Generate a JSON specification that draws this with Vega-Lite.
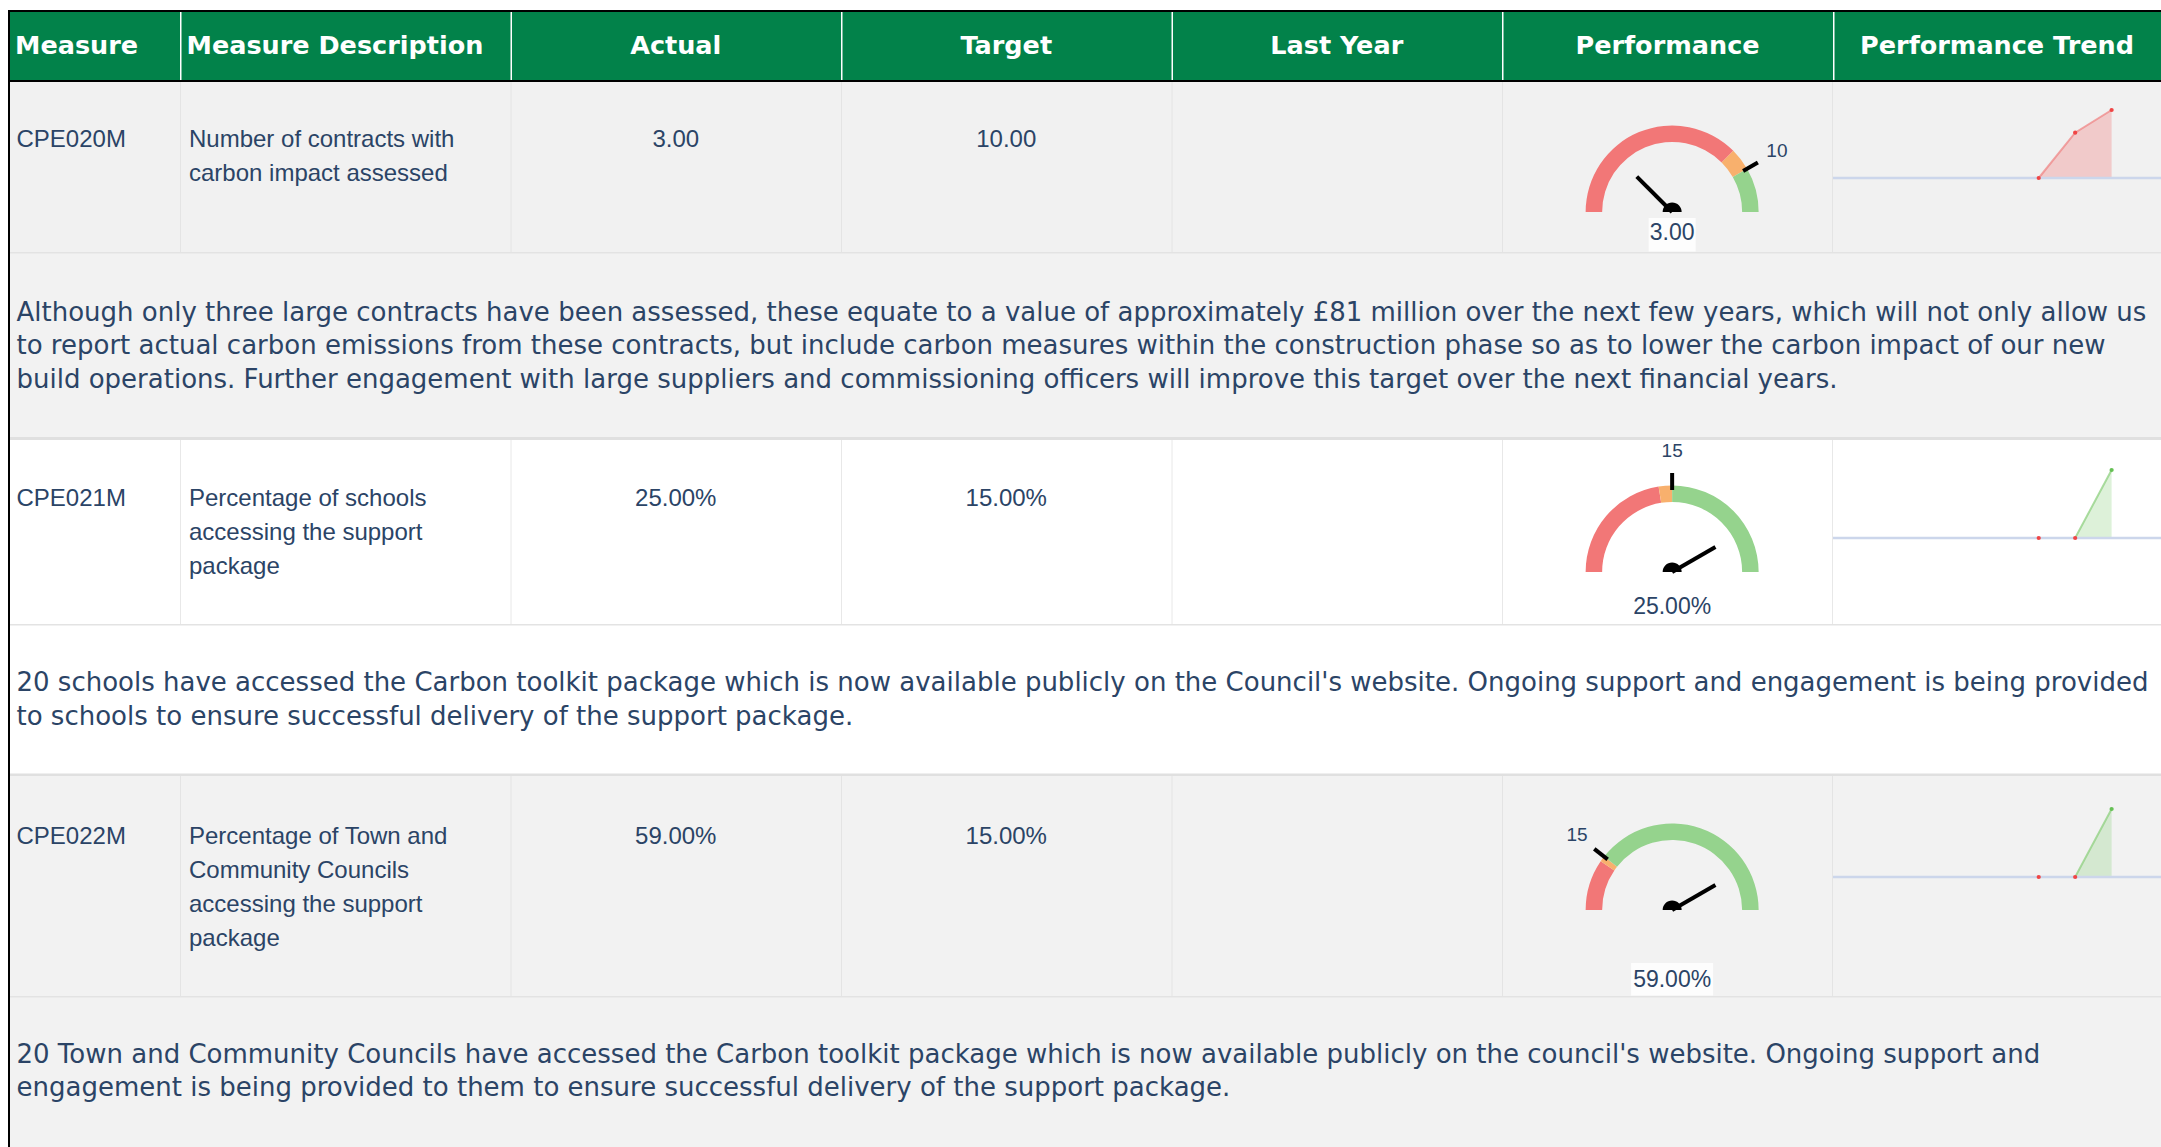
{
"$schema": "https://vega.github.io/schema/vega-lite/v6.json",
"background": "white",
"padding": {"left": 8, "top": 10, "right": 0, "bottom": 0},
"config": {"view": {"stroke": null}},
"spacing": 0,
"hconcat": [
{"width": 2, "height": 1137, "data": {"values": [{}]}, "mark": {"type": "rect", "color": "black"}, "encoding": {}},
{"spacing": 0,
 "resolve": {"scale": {"theta": "independent", "angle": "independent"}},
 "vconcat": [
 {"width": 2151, "height": 2, "data": {"values": [{}]}, "mark": {"type": "rect", "color": "black"}, "encoding": {}},
 {"spacing": 0, "hconcat": [
  {"width": 170, "height": 68, "data": {"values": [{"col": "Measure"}]}, "layer": [
   {"mark": {"type": "rect", "color": "#02824a"}, "encoding": {}},
   {"mark": {"type": "text", "align": "left", "baseline": "middle", "dx": 5, "font": "DejaVu Sans", "fontWeight": "bold", "fontSize": 25.5, "color": "white"},
    "encoding": {"x": {"field": "col", "type": "nominal", "axis": null, "scale": {"type": "band", "paddingInner": 0, "paddingOuter": 0}, "bandPosition": 0}, "text": {"field": "col"}}}
  ]},
  {"width": 1322, "height": 68, "data": {"values": [{"col": "Measure Description"}, {"col": "Actual"}, {"col": "Target"}, {"col": "Last Year"}]}, "layer": [
   {"mark": {"type": "rect", "color": "#02824a"}, "encoding": {}},
   {"mark": {"type": "rule", "color": "white", "strokeWidth": 1.5, "xOffset": 0.75, "clip": true}, "encoding": {"x": {"field": "col", "type": "nominal", "axis": null, "scale": {"type": "band", "domain": ["Measure Description", "Actual", "Target", "Last Year"], "paddingInner": 0, "paddingOuter": 0}, "bandPosition": 0}}},
   {"transform": [{"filter": "datum.col === 'Measure Description'"}], "mark": {"type": "text", "align": "left", "baseline": "middle", "dx": 6.5, "font": "DejaVu Sans", "fontWeight": "bold", "fontSize": 25.5, "color": "white"},
    "encoding": {"x": {"field": "col", "type": "nominal", "axis": null, "scale": {"type": "band", "domain": ["Measure Description", "Actual", "Target", "Last Year"], "paddingInner": 0, "paddingOuter": 0}, "bandPosition": 0}, "text": {"field": "col"}}},
   {"transform": [{"filter": "datum.col !== 'Measure Description'"}], "mark": {"type": "text", "align": "center", "baseline": "middle", "font": "DejaVu Sans", "fontWeight": "bold", "fontSize": 25.5, "color": "white"},
    "encoding": {"x": {"field": "col", "type": "nominal", "axis": null, "scale": {"type": "band", "domain": ["Measure Description", "Actual", "Target", "Last Year"], "paddingInner": 0, "paddingOuter": 0}, "bandPosition": 0.5}, "text": {"field": "col"}}}
  ]},
  {"width": 331, "height": 68, "data": {"values": [{"col": "Performance"}]}, "layer": [
   {"mark": {"type": "rect", "color": "#02824a"}, "encoding": {}},
   {"mark": {"type": "rule", "color": "white", "strokeWidth": 1.5, "xOffset": 0.75, "clip": true}, "encoding": {"x": {"field": "col", "type": "nominal", "axis": null, "scale": {"type": "band", "paddingInner": 0, "paddingOuter": 0}, "bandPosition": 0}}},
   {"mark": {"type": "text", "align": "center", "baseline": "middle", "font": "DejaVu Sans", "fontWeight": "bold", "fontSize": 25.5, "color": "white"},
    "encoding": {"x": {"field": "col", "type": "nominal", "axis": null, "scale": {"type": "band", "paddingInner": 0, "paddingOuter": 0}, "bandPosition": 0.5}, "text": {"field": "col"}}}
  ]},
  {"width": 328, "height": 68, "data": {"values": [{"col": "Performance Trend"}]}, "layer": [
   {"mark": {"type": "rect", "color": "#02824a"}, "encoding": {}},
   {"mark": {"type": "rule", "color": "white", "strokeWidth": 1.5, "xOffset": 0.75, "clip": true}, "encoding": {"x": {"field": "col", "type": "nominal", "axis": null, "scale": {"type": "band", "paddingInner": 0, "paddingOuter": 0}, "bandPosition": 0}}},
   {"mark": {"type": "text", "align": "center", "baseline": "middle", "font": "DejaVu Sans", "fontWeight": "bold", "fontSize": 25.5, "color": "white"},
    "encoding": {"x": {"field": "col", "type": "nominal", "axis": null, "scale": {"type": "band", "paddingInner": 0, "paddingOuter": 0}, "bandPosition": 0.5}, "text": {"field": "col"}}}
  ]}
 ]},
 {"width": 2151, "height": 2, "data": {"values": [{}]}, "mark": {"type": "rect", "color": "black"}, "encoding": {}},

 {"spacing": 0, "hconcat": [
  {"width": 170, "height": 170, "data": {"values": [{"m": "CPE020M"}]}, "layer": [
   {"mark": {"type": "rect", "color": "#f1f1f1"}, "encoding": {}},
   {"mark": {"type": "text", "align": "left", "baseline": "alphabetic", "dx": 6.5, "dy": 64.7, "font": "Liberation Sans", "fontSize": 24, "color": "#2b4466", "clip": true},
    "encoding": {"x": {"field": "m", "type": "nominal", "axis": null, "scale": {"type": "band", "paddingInner": 0, "paddingOuter": 0}, "bandPosition": 0},
                 "y": {"field": "m", "type": "nominal", "axis": null, "scale": {"type": "band", "paddingInner": 0, "paddingOuter": 0}, "bandPosition": 0},
                 "text": {"field": "m"}}}
  ]},
  {"width": 1322, "height": 170, "data": {"values": [
    {"m": "CPE020M", "col": "Measure Description", "text": "Number of contracts with\ncarbon impact assessed"},
    {"m": "CPE020M", "col": "Actual", "text": "3.00"},
    {"m": "CPE020M", "col": "Target", "text": "10.00"},
    {"m": "CPE020M", "col": "Last Year", "text": ""}]}, "layer": [
   {"mark": {"type": "rect", "color": "#f1f1f1"}, "encoding": {}},
   {"mark": {"type": "rule", "color": "#e4e4e4", "strokeWidth": 1, "xOffset": 0.5, "clip": true}, "encoding": {"x": {"field": "col", "type": "nominal", "axis": null, "scale": {"type": "band", "domain": ["Measure Description", "Actual", "Target", "Last Year"], "paddingInner": 0, "paddingOuter": 0}, "bandPosition": 0}}},
   {"transform": [{"filter": "datum.col === 'Measure Description'"}], "mark": {"type": "text", "align": "left", "baseline": "alphabetic", "dx": 9, "dy": 64.7, "lineBreak": "\n", "lineHeight": 34, "font": "Liberation Sans", "fontSize": 24, "color": "#2b4466", "clip": true},
    "encoding": {"x": {"field": "col", "type": "nominal", "axis": null, "scale": {"type": "band", "domain": ["Measure Description", "Actual", "Target", "Last Year"], "paddingInner": 0, "paddingOuter": 0}, "bandPosition": 0},
                 "y": {"field": "m", "type": "nominal", "axis": null, "scale": {"type": "band", "paddingInner": 0, "paddingOuter": 0}, "bandPosition": 0},
                 "text": {"field": "text"}}},
   {"transform": [{"filter": "datum.col === 'Actual' || datum.col === 'Target'"}], "mark": {"type": "text", "align": "center", "baseline": "alphabetic", "dy": 64.7, "font": "Liberation Sans", "fontSize": 24, "color": "#2b4466", "clip": true},
    "encoding": {"x": {"field": "col", "type": "nominal", "axis": null, "scale": {"type": "band", "domain": ["Measure Description", "Actual", "Target", "Last Year"], "paddingInner": 0, "paddingOuter": 0}, "bandPosition": 0.5},
                 "y": {"field": "m", "type": "nominal", "axis": null, "scale": {"type": "band", "paddingInner": 0, "paddingOuter": 0}, "bandPosition": 0},
                 "text": {"field": "text"}}}
  ]},
  {"width": 331, "height": 170, "layer": [
   {"data": {"values": [{"col": "Performance"}]}, "layer": [
    {"mark": {"type": "rect", "color": "#f1f1f1"}, "encoding": {}},
    {"mark": {"type": "rule", "color": "#e4e4e4", "strokeWidth": 1, "xOffset": 0.5, "clip": true}, "encoding": {"x": {"field": "col", "type": "nominal", "axis": null, "scale": {"type": "band", "paddingInner": 0, "paddingOuter": 0}, "bandPosition": 0}}},
    {"mark": {"type": "rule", "color": "#e4e4e4", "strokeWidth": 1, "xOffset": -0.5, "clip": true}, "encoding": {"x": {"field": "col", "type": "nominal", "axis": null, "bandPosition": 1}}}
   ]},
   {"data": {"values": [{"col": "Performance", "rag": "Red", "from": 0, "to": 9}, {"col": "Performance", "rag": "Amber", "from": 9, "to": 10}, {"col": "Performance", "rag": "Green", "from": 10, "to": 12}]},
    "mark": {"type": "arc", "outerRadius": 86.5, "innerRadius": 70, "clip": true},
    "encoding": {"x": {"field": "col", "type": "nominal", "axis": null, "bandPosition": 0.514},
                 "y": {"field": "col", "type": "nominal", "axis": null, "scale": {"type": "band", "paddingInner": 0, "paddingOuter": 0}, "bandPosition": 0.7647},
                 "theta": {"field": "from", "type": "quantitative", "stack": null, "scale": {"domain": [0, 12], "range": [-1.5708, 1.5708]}},
                 "theta2": {"field": "to"},
                 "color": {"field": "rag", "type": "nominal", "legend": null, "scale": {"domain": ["Red", "Amber", "Green"], "range": ["#f27777", "#f8b06d", "#95d38d"]}}}},
   {"data": {"values": [{"col": "Performance", "m": "CPE020M", "actual": 3, "target": 10, "label": "3.00"}]}, "layer": [
    {"mark": {"type": "point", "shape": "M0,-0.82L0,-0.99", "size": 40000, "filled": false, "color": "black", "strokeWidth": 4, "opacity": 1, "clip": true},
     "encoding": {"x": {"field": "col", "type": "nominal", "axis": null, "bandPosition": 0.514}, "y": {"field": "col", "type": "nominal", "axis": null, "bandPosition": 0.7647},
                  "angle": {"field": "target", "type": "quantitative", "legend": null, "scale": {"domain": [0, 12], "range": [-90, 90]}}}},
    {"mark": {"type": "point", "shape": "M0,0L0,-0.5", "size": 40000, "filled": false, "color": "black", "strokeWidth": 4, "opacity": 1, "clip": true},
     "encoding": {"x": {"field": "col", "type": "nominal", "axis": null, "bandPosition": 0.514}, "y": {"field": "col", "type": "nominal", "axis": null, "bandPosition": 0.7647},
                  "angle": {"field": "actual", "type": "quantitative", "legend": null, "scale": {"domain": [0, 12], "range": [-90, 90]}}}},
    {"mark": {"type": "point", "shape": "M-1,0A1,1 0 0,1 1,0Z", "size": 361, "filled": true, "color": "black", "opacity": 1, "clip": true},
     "encoding": {"x": {"field": "col", "type": "nominal", "axis": null, "bandPosition": 0.514}, "y": {"field": "col", "type": "nominal", "axis": null, "bandPosition": 0.7647}}},
    {"mark": {"type": "text", "radius": 121, "align": "center", "baseline": "middle", "font": "Liberation Sans", "fontSize": 19, "color": "#2b4466", "clip": true},
     "encoding": {"x": {"field": "col", "type": "nominal", "axis": null, "bandPosition": 0.514}, "y": {"field": "col", "type": "nominal", "axis": null, "bandPosition": 0.7647},
                  "theta": {"field": "target", "type": "quantitative", "stack": null, "scale": {"domain": [0, 12], "range": [-1.5708, 1.5708]}}, "text": {"field": "target", "type": "quantitative"}}},
    {"mark": {"type": "point", "shape": "M-0.235,0.06H0.235V0.395H-0.235Z", "size": 40000, "filled": true, "color": "white", "opacity": 0.85, "strokeWidth": 0, "clip": true},
     "encoding": {"x": {"field": "col", "type": "nominal", "axis": null, "bandPosition": 0.514}, "y": {"field": "col", "type": "nominal", "axis": null, "bandPosition": 0.7647}}},
    {"mark": {"type": "text", "dy": 20.7, "align": "center", "baseline": "middle", "font": "Liberation Sans", "fontSize": 23, "color": "#2b4466", "clip": true},
     "encoding": {"x": {"field": "col", "type": "nominal", "axis": null, "bandPosition": 0.514}, "y": {"field": "col", "type": "nominal", "axis": null, "bandPosition": 0.7647}, "text": {"field": "label"}}}
   ]}
  ]},
  {"spacing": 0, "vconcat": [
   {"width": 328, "height": 25, "data": {"values": [{}]}, "mark": {"type": "rect", "color": "#f1f1f1"}, "encoding": {}},
   {"width": 328, "height": 74, "layer": [
    {"data": {"values": [{}]}, "mark": {"type": "rect", "color": "#f1f1f1"}, "encoding": {}},
    {"data": {"values": [{"month": "Sep", "value": 0, "rag": "Red"}, {"month": "Oct", "value": 2, "rag": "Red"}, {"month": "Nov", "value": 3, "rag": "Red"}]}, "layer": [
     {"mark": {"type": "area", "color": "#f08080", "opacity": 0.35, "clip": true},
      "encoding": {"x": {"field": "month", "type": "ordinal", "axis": null, "scale": {"type": "point", "domain": ["Apr", "May", "Jun", "Jul", "Aug", "Sep", "Oct", "Nov", "Dec"], "padding": 0.5, "align": 0.645}},
                   "y": {"field": "value", "type": "quantitative", "axis": null, "scale": {"zero": true, "nice": false, "padding": 3}}}},
     {"mark": {"type": "line", "color": "#f08080", "opacity": 0.7, "strokeWidth": 2, "clip": true},
      "encoding": {"x": {"field": "month", "type": "ordinal", "axis": null}, "y": {"field": "value", "type": "quantitative", "axis": null}}}
    ]},
    {"data": {"values": [{"value": 0}]}, "mark": {"type": "rule", "color": "#ccd6eb", "strokeWidth": 2.5, "clip": true}, "encoding": {"y": {"field": "value", "type": "quantitative", "axis": null}}},
    {"data": {"values": [{"month": "Sep", "value": 0, "rag": "Red"}, {"month": "Oct", "value": 2, "rag": "Red"}, {"month": "Nov", "value": 3, "rag": "Red"}]},
     "mark": {"type": "point", "filled": true, "size": 18, "opacity": 1, "clip": true},
     "encoding": {"x": {"field": "month", "type": "ordinal", "axis": null}, "y": {"field": "value", "type": "quantitative", "axis": null},
                  "fill": {"field": "rag", "type": "nominal", "legend": null, "scale": {"domain": ["Red", "Green"], "range": ["#f04545", "#66c055"]}}}}
   ]},
   {"width": 328, "height": 71, "data": {"values": [{}]}, "mark": {"type": "rect", "color": "#f1f1f1"}, "encoding": {}}
  ]}
 ]},

 {"width": 2151, "height": 188, "data": {"values": [{"m": "CPE020M", "text": "Although only three large contracts have been assessed, these equate to a value of approximately £81 million over the next few years, which will not only allow us\nto report actual carbon emissions from these contracts, but include carbon measures within the construction phase so as to lower the carbon impact of our new\nbuild operations. Further engagement with large suppliers and commissioning officers will improve this target over the next financial years."}]}, "layer": [
  {"mark": {"type": "rect", "color": "#f2f2f2"}, "encoding": {}},
  {"mark": {"type": "rule", "color": "#e3e3e3", "strokeWidth": 1.5, "yOffset": 0.75, "clip": true}, "encoding": {"y": {"field": "m", "type": "nominal", "axis": null, "scale": {"type": "band", "paddingInner": 0, "paddingOuter": 0}, "bandPosition": 0}}},
  {"mark": {"type": "rule", "color": "#e0e0e0", "strokeWidth": 3, "yOffset": -1.5, "clip": true}, "encoding": {"y": {"field": "m", "type": "nominal", "axis": null, "scale": {"type": "band", "paddingInner": 0, "paddingOuter": 0}, "bandPosition": 1}}},
  {"mark": {"type": "text", "align": "left", "baseline": "middle", "dx": 6.5, "dy": -33.5, "lineBreak": "\n", "lineHeight": 33.5, "font": "DejaVu Sans", "fontSize": 26, "color": "#2b4466", "clip": true},
   "encoding": {"x": {"field": "m", "type": "nominal", "axis": null, "scale": {"type": "band", "paddingInner": 0, "paddingOuter": 0}, "bandPosition": 0}, "text": {"field": "text"}}}
 ]},

 {"spacing": 0, "hconcat": [
  {"width": 170, "height": 184, "data": {"values": [{"m": "CPE021M"}]}, "layer": [
   {"mark": {"type": "rect", "color": "#ffffff"}, "encoding": {}},
   {"mark": {"type": "text", "align": "left", "baseline": "alphabetic", "dx": 6.5, "dy": 66, "font": "Liberation Sans", "fontSize": 24, "color": "#2b4466", "clip": true},
    "encoding": {"x": {"field": "m", "type": "nominal", "axis": null, "scale": {"type": "band", "paddingInner": 0, "paddingOuter": 0}, "bandPosition": 0},
                 "y": {"field": "m", "type": "nominal", "axis": null, "scale": {"type": "band", "paddingInner": 0, "paddingOuter": 0}, "bandPosition": 0},
                 "text": {"field": "m"}}}
  ]},
  {"width": 1322, "height": 184, "data": {"values": [
    {"m": "CPE021M", "col": "Measure Description", "text": "Percentage of schools\naccessing the support\npackage"},
    {"m": "CPE021M", "col": "Actual", "text": "25.00%"},
    {"m": "CPE021M", "col": "Target", "text": "15.00%"},
    {"m": "CPE021M", "col": "Last Year", "text": ""}]}, "layer": [
   {"mark": {"type": "rect", "color": "#ffffff"}, "encoding": {}},
   {"mark": {"type": "rule", "color": "#e8e8e8", "strokeWidth": 1, "xOffset": 0.5, "clip": true}, "encoding": {"x": {"field": "col", "type": "nominal", "axis": null, "scale": {"type": "band", "domain": ["Measure Description", "Actual", "Target", "Last Year"], "paddingInner": 0, "paddingOuter": 0}, "bandPosition": 0}}},
   {"transform": [{"filter": "datum.col === 'Measure Description'"}], "mark": {"type": "text", "align": "left", "baseline": "alphabetic", "dx": 9, "dy": 66, "lineBreak": "\n", "lineHeight": 34, "font": "Liberation Sans", "fontSize": 24, "color": "#2b4466", "clip": true},
    "encoding": {"x": {"field": "col", "type": "nominal", "axis": null, "scale": {"type": "band", "domain": ["Measure Description", "Actual", "Target", "Last Year"], "paddingInner": 0, "paddingOuter": 0}, "bandPosition": 0},
                 "y": {"field": "m", "type": "nominal", "axis": null, "scale": {"type": "band", "paddingInner": 0, "paddingOuter": 0}, "bandPosition": 0},
                 "text": {"field": "text"}}},
   {"transform": [{"filter": "datum.col === 'Actual' || datum.col === 'Target'"}], "mark": {"type": "text", "align": "center", "baseline": "alphabetic", "dy": 66, "font": "Liberation Sans", "fontSize": 24, "color": "#2b4466", "clip": true},
    "encoding": {"x": {"field": "col", "type": "nominal", "axis": null, "scale": {"type": "band", "domain": ["Measure Description", "Actual", "Target", "Last Year"], "paddingInner": 0, "paddingOuter": 0}, "bandPosition": 0.5},
                 "y": {"field": "m", "type": "nominal", "axis": null, "scale": {"type": "band", "paddingInner": 0, "paddingOuter": 0}, "bandPosition": 0},
                 "text": {"field": "text"}}}
  ]},
  {"width": 331, "height": 184, "layer": [
   {"data": {"values": [{"col": "Performance"}]}, "layer": [
    {"mark": {"type": "rect", "color": "#ffffff"}, "encoding": {}},
    {"mark": {"type": "rule", "color": "#e8e8e8", "strokeWidth": 1, "xOffset": 0.5, "clip": true}, "encoding": {"x": {"field": "col", "type": "nominal", "axis": null, "scale": {"type": "band", "paddingInner": 0, "paddingOuter": 0}, "bandPosition": 0}}},
    {"mark": {"type": "rule", "color": "#e8e8e8", "strokeWidth": 1, "xOffset": -0.5, "clip": true}, "encoding": {"x": {"field": "col", "type": "nominal", "axis": null, "bandPosition": 1}}}
   ]},
   {"data": {"values": [{"col": "Performance", "rag": "Red", "from": 0, "to": 13.5}, {"col": "Performance", "rag": "Amber", "from": 13.5, "to": 15}, {"col": "Performance", "rag": "Green", "from": 15, "to": 30}]},
    "mark": {"type": "arc", "outerRadius": 86.5, "innerRadius": 70, "clip": true},
    "encoding": {"x": {"field": "col", "type": "nominal", "axis": null, "bandPosition": 0.514},
                 "y": {"field": "col", "type": "nominal", "axis": null, "scale": {"type": "band", "paddingInner": 0, "paddingOuter": 0}, "bandPosition": 0.7174},
                 "theta": {"field": "from", "type": "quantitative", "stack": null, "scale": {"domain": [0, 30], "range": [-1.5708, 1.5708]}},
                 "theta2": {"field": "to"},
                 "color": {"field": "rag", "type": "nominal", "legend": null, "scale": {"domain": ["Red", "Amber", "Green"], "range": ["#f27777", "#f8b06d", "#95d38d"]}}}},
   {"data": {"values": [{"col": "Performance", "m": "CPE021M", "actual": 25, "target": 15, "label": "25.00%"}]}, "layer": [
    {"mark": {"type": "point", "shape": "M0,-0.82L0,-0.99", "size": 40000, "filled": false, "color": "black", "strokeWidth": 4, "opacity": 1, "clip": true},
     "encoding": {"x": {"field": "col", "type": "nominal", "axis": null, "bandPosition": 0.514}, "y": {"field": "col", "type": "nominal", "axis": null, "bandPosition": 0.7174},
                  "angle": {"field": "target", "type": "quantitative", "legend": null, "scale": {"domain": [0, 30], "range": [-90, 90]}}}},
    {"mark": {"type": "point", "shape": "M0,0L0,-0.5", "size": 40000, "filled": false, "color": "black", "strokeWidth": 4, "opacity": 1, "clip": true},
     "encoding": {"x": {"field": "col", "type": "nominal", "axis": null, "bandPosition": 0.514}, "y": {"field": "col", "type": "nominal", "axis": null, "bandPosition": 0.7174},
                  "angle": {"field": "actual", "type": "quantitative", "legend": null, "scale": {"domain": [0, 30], "range": [-90, 90]}}}},
    {"mark": {"type": "point", "shape": "M-1,0A1,1 0 0,1 1,0Z", "size": 361, "filled": true, "color": "black", "opacity": 1, "clip": true},
     "encoding": {"x": {"field": "col", "type": "nominal", "axis": null, "bandPosition": 0.514}, "y": {"field": "col", "type": "nominal", "axis": null, "bandPosition": 0.7174}}},
    {"mark": {"type": "text", "radius": 121, "align": "center", "baseline": "middle", "font": "Liberation Sans", "fontSize": 19, "color": "#2b4466", "clip": true},
     "encoding": {"x": {"field": "col", "type": "nominal", "axis": null, "bandPosition": 0.514}, "y": {"field": "col", "type": "nominal", "axis": null, "bandPosition": 0.7174},
                  "theta": {"field": "target", "type": "quantitative", "stack": null, "scale": {"domain": [0, 30], "range": [-1.5708, 1.5708]}}, "text": {"field": "target", "type": "quantitative"}}},
    {"mark": {"type": "text", "dy": 34.7, "align": "center", "baseline": "middle", "font": "Liberation Sans", "fontSize": 23, "color": "#2b4466", "clip": true},
     "encoding": {"x": {"field": "col", "type": "nominal", "axis": null, "bandPosition": 0.514}, "y": {"field": "col", "type": "nominal", "axis": null, "bandPosition": 0.7174}, "text": {"field": "label"}}}
   ]}
  ]},
  {"spacing": 0, "vconcat": [
   {"width": 328, "height": 27, "data": {"values": [{}]}, "mark": {"type": "rect", "color": "#ffffff"}, "encoding": {}},
   {"width": 328, "height": 74, "layer": [
    {"data": {"values": [{}]}, "mark": {"type": "rect", "color": "#ffffff"}, "encoding": {}},
    {"data": {"values": [{"month": "Sep", "value": 0, "rag": "Red"}, {"month": "Oct", "value": 0, "rag": "Red"}, {"month": "Nov", "value": 25, "rag": "Green"}]}, "layer": [
     {"mark": {"type": "area", "color": "#8fd080", "opacity": 0.3, "clip": true},
      "encoding": {"x": {"field": "month", "type": "ordinal", "axis": null, "scale": {"type": "point", "domain": ["Apr", "May", "Jun", "Jul", "Aug", "Sep", "Oct", "Nov", "Dec"], "padding": 0.5, "align": 0.645}},
                   "y": {"field": "value", "type": "quantitative", "axis": null, "scale": {"zero": true, "nice": false, "padding": 3}}}},
     {"mark": {"type": "line", "color": "#8fd080", "opacity": 0.75, "strokeWidth": 2, "clip": true},
      "encoding": {"x": {"field": "month", "type": "ordinal", "axis": null}, "y": {"field": "value", "type": "quantitative", "axis": null}}}
    ]},
    {"data": {"values": [{"value": 0}]}, "mark": {"type": "rule", "color": "#ccd6eb", "strokeWidth": 2.5, "clip": true}, "encoding": {"y": {"field": "value", "type": "quantitative", "axis": null}}},
    {"data": {"values": [{"month": "Sep", "value": 0, "rag": "Red"}, {"month": "Oct", "value": 0, "rag": "Red"}, {"month": "Nov", "value": 25, "rag": "Green"}]},
     "mark": {"type": "point", "filled": true, "size": 18, "opacity": 1, "clip": true},
     "encoding": {"x": {"field": "month", "type": "ordinal", "axis": null}, "y": {"field": "value", "type": "quantitative", "axis": null},
                  "fill": {"field": "rag", "type": "nominal", "legend": null, "scale": {"domain": ["Red", "Green"], "range": ["#f04545", "#66c055"]}}}}
   ]},
   {"width": 328, "height": 83, "data": {"values": [{}]}, "mark": {"type": "rect", "color": "#ffffff"}, "encoding": {}}
  ]}
 ]},

 {"width": 2151, "height": 152, "data": {"values": [{"m": "CPE021M", "text": "20 schools have accessed the Carbon toolkit package which is now available publicly on the Council's website. Ongoing support and engagement is being provided\nto schools to ensure successful delivery of the support package."}]}, "layer": [
  {"mark": {"type": "rect", "color": "#ffffff"}, "encoding": {}},
  {"mark": {"type": "rule", "color": "#e3e3e3", "strokeWidth": 1.5, "yOffset": 0.75, "clip": true}, "encoding": {"y": {"field": "m", "type": "nominal", "axis": null, "scale": {"type": "band", "paddingInner": 0, "paddingOuter": 0}, "bandPosition": 0}}},
  {"mark": {"type": "rule", "color": "#e0e0e0", "strokeWidth": 2.5, "yOffset": -1.25, "clip": true}, "encoding": {"y": {"field": "m", "type": "nominal", "axis": null, "scale": {"type": "band", "paddingInner": 0, "paddingOuter": 0}, "bandPosition": 1}}},
  {"mark": {"type": "text", "align": "left", "baseline": "middle", "dx": 6.5, "dy": -16.75, "lineBreak": "\n", "lineHeight": 33.5, "font": "DejaVu Sans", "fontSize": 26, "color": "#2b4466", "clip": true},
   "encoding": {"x": {"field": "m", "type": "nominal", "axis": null, "scale": {"type": "band", "paddingInner": 0, "paddingOuter": 0}, "bandPosition": 0}, "text": {"field": "text"}}}
 ]},

 {"spacing": 0, "hconcat": [
  {"width": 170, "height": 220, "data": {"values": [{"m": "CPE022M"}]}, "layer": [
   {"mark": {"type": "rect", "color": "#f2f2f2"}, "encoding": {}},
   {"mark": {"type": "text", "align": "left", "baseline": "alphabetic", "dx": 6.5, "dy": 67.5, "font": "Liberation Sans", "fontSize": 24, "color": "#2b4466", "clip": true},
    "encoding": {"x": {"field": "m", "type": "nominal", "axis": null, "scale": {"type": "band", "paddingInner": 0, "paddingOuter": 0}, "bandPosition": 0},
                 "y": {"field": "m", "type": "nominal", "axis": null, "scale": {"type": "band", "paddingInner": 0, "paddingOuter": 0}, "bandPosition": 0},
                 "text": {"field": "m"}}}
  ]},
  {"width": 1322, "height": 220, "data": {"values": [
    {"m": "CPE022M", "col": "Measure Description", "text": "Percentage of Town and\nCommunity Councils\naccessing the support\npackage"},
    {"m": "CPE022M", "col": "Actual", "text": "59.00%"},
    {"m": "CPE022M", "col": "Target", "text": "15.00%"},
    {"m": "CPE022M", "col": "Last Year", "text": ""}]}, "layer": [
   {"mark": {"type": "rect", "color": "#f2f2f2"}, "encoding": {}},
   {"mark": {"type": "rule", "color": "#e4e4e4", "strokeWidth": 1, "xOffset": 0.5, "clip": true}, "encoding": {"x": {"field": "col", "type": "nominal", "axis": null, "scale": {"type": "band", "domain": ["Measure Description", "Actual", "Target", "Last Year"], "paddingInner": 0, "paddingOuter": 0}, "bandPosition": 0}}},
   {"transform": [{"filter": "datum.col === 'Measure Description'"}], "mark": {"type": "text", "align": "left", "baseline": "alphabetic", "dx": 9, "dy": 67.5, "lineBreak": "\n", "lineHeight": 34, "font": "Liberation Sans", "fontSize": 24, "color": "#2b4466", "clip": true},
    "encoding": {"x": {"field": "col", "type": "nominal", "axis": null, "scale": {"type": "band", "domain": ["Measure Description", "Actual", "Target", "Last Year"], "paddingInner": 0, "paddingOuter": 0}, "bandPosition": 0},
                 "y": {"field": "m", "type": "nominal", "axis": null, "scale": {"type": "band", "paddingInner": 0, "paddingOuter": 0}, "bandPosition": 0},
                 "text": {"field": "text"}}},
   {"transform": [{"filter": "datum.col === 'Actual' || datum.col === 'Target'"}], "mark": {"type": "text", "align": "center", "baseline": "alphabetic", "dy": 67.5, "font": "Liberation Sans", "fontSize": 24, "color": "#2b4466", "clip": true},
    "encoding": {"x": {"field": "col", "type": "nominal", "axis": null, "scale": {"type": "band", "domain": ["Measure Description", "Actual", "Target", "Last Year"], "paddingInner": 0, "paddingOuter": 0}, "bandPosition": 0.5},
                 "y": {"field": "m", "type": "nominal", "axis": null, "scale": {"type": "band", "paddingInner": 0, "paddingOuter": 0}, "bandPosition": 0},
                 "text": {"field": "text"}}}
  ]},
  {"width": 331, "height": 220, "layer": [
   {"data": {"values": [{"col": "Performance"}]}, "layer": [
    {"mark": {"type": "rect", "color": "#f2f2f2"}, "encoding": {}},
    {"mark": {"type": "rule", "color": "#e4e4e4", "strokeWidth": 1, "xOffset": 0.5, "clip": true}, "encoding": {"x": {"field": "col", "type": "nominal", "axis": null, "scale": {"type": "band", "paddingInner": 0, "paddingOuter": 0}, "bandPosition": 0}}},
    {"mark": {"type": "rule", "color": "#e4e4e4", "strokeWidth": 1, "xOffset": -0.5, "clip": true}, "encoding": {"x": {"field": "col", "type": "nominal", "axis": null, "bandPosition": 1}}}
   ]},
   {"data": {"values": [{"col": "Performance", "rag": "Red", "from": 0, "to": 13.5}, {"col": "Performance", "rag": "Amber", "from": 13.5, "to": 15}, {"col": "Performance", "rag": "Green", "from": 15, "to": 70.8}]},
    "mark": {"type": "arc", "outerRadius": 86.5, "innerRadius": 70, "clip": true},
    "encoding": {"x": {"field": "col", "type": "nominal", "axis": null, "bandPosition": 0.514},
                 "y": {"field": "col", "type": "nominal", "axis": null, "scale": {"type": "band", "paddingInner": 0, "paddingOuter": 0}, "bandPosition": 0.6091},
                 "theta": {"field": "from", "type": "quantitative", "stack": null, "scale": {"domain": [0, 70.8], "range": [-1.5708, 1.5708]}},
                 "theta2": {"field": "to"},
                 "color": {"field": "rag", "type": "nominal", "legend": null, "scale": {"domain": ["Red", "Amber", "Green"], "range": ["#f27777", "#f8b06d", "#95d38d"]}}}},
   {"data": {"values": [{"col": "Performance", "m": "CPE022M", "actual": 59, "target": 15, "label": "59.00%"}]}, "layer": [
    {"mark": {"type": "point", "shape": "M0,-0.82L0,-0.99", "size": 40000, "filled": false, "color": "black", "strokeWidth": 4, "opacity": 1, "clip": true},
     "encoding": {"x": {"field": "col", "type": "nominal", "axis": null, "bandPosition": 0.514}, "y": {"field": "col", "type": "nominal", "axis": null, "bandPosition": 0.6091},
                  "angle": {"field": "target", "type": "quantitative", "legend": null, "scale": {"domain": [0, 70.8], "range": [-90, 90]}}}},
    {"mark": {"type": "point", "shape": "M0,0L0,-0.5", "size": 40000, "filled": false, "color": "black", "strokeWidth": 4, "opacity": 1, "clip": true},
     "encoding": {"x": {"field": "col", "type": "nominal", "axis": null, "bandPosition": 0.514}, "y": {"field": "col", "type": "nominal", "axis": null, "bandPosition": 0.6091},
                  "angle": {"field": "actual", "type": "quantitative", "legend": null, "scale": {"domain": [0, 70.8], "range": [-90, 90]}}}},
    {"mark": {"type": "point", "shape": "M-1,0A1,1 0 0,1 1,0Z", "size": 361, "filled": true, "color": "black", "opacity": 1, "clip": true},
     "encoding": {"x": {"field": "col", "type": "nominal", "axis": null, "bandPosition": 0.514}, "y": {"field": "col", "type": "nominal", "axis": null, "bandPosition": 0.6091}}},
    {"mark": {"type": "text", "radius": 121, "align": "center", "baseline": "middle", "font": "Liberation Sans", "fontSize": 19, "color": "#2b4466", "clip": true},
     "encoding": {"x": {"field": "col", "type": "nominal", "axis": null, "bandPosition": 0.514}, "y": {"field": "col", "type": "nominal", "axis": null, "bandPosition": 0.6091},
                  "theta": {"field": "target", "type": "quantitative", "stack": null, "scale": {"domain": [0, 70.8], "range": [-1.5708, 1.5708]}}, "text": {"field": "target", "type": "quantitative"}}},
    {"mark": {"type": "point", "shape": "M-0.41,0.53H0.41V0.855H-0.41Z", "size": 40000, "filled": true, "color": "white", "opacity": 0.85, "strokeWidth": 0, "clip": true},
     "encoding": {"x": {"field": "col", "type": "nominal", "axis": null, "bandPosition": 0.514}, "y": {"field": "col", "type": "nominal", "axis": null, "bandPosition": 0.6091}}},
    {"mark": {"type": "text", "dy": 70, "align": "center", "baseline": "middle", "font": "Liberation Sans", "fontSize": 23, "color": "#2b4466", "clip": true},
     "encoding": {"x": {"field": "col", "type": "nominal", "axis": null, "bandPosition": 0.514}, "y": {"field": "col", "type": "nominal", "axis": null, "bandPosition": 0.6091}, "text": {"field": "label"}}}
   ]}
  ]},
  {"spacing": 0, "vconcat": [
   {"width": 328, "height": 30, "data": {"values": [{}]}, "mark": {"type": "rect", "color": "#f2f2f2"}, "encoding": {}},
   {"width": 328, "height": 74, "layer": [
    {"data": {"values": [{}]}, "mark": {"type": "rect", "color": "#f2f2f2"}, "encoding": {}},
    {"data": {"values": [{"month": "Sep", "value": 0, "rag": "Red"}, {"month": "Oct", "value": 0, "rag": "Red"}, {"month": "Nov", "value": 59, "rag": "Green"}]}, "layer": [
     {"mark": {"type": "area", "color": "#8fd080", "opacity": 0.3, "clip": true},
      "encoding": {"x": {"field": "month", "type": "ordinal", "axis": null, "scale": {"type": "point", "domain": ["Apr", "May", "Jun", "Jul", "Aug", "Sep", "Oct", "Nov", "Dec"], "padding": 0.5, "align": 0.645}},
                   "y": {"field": "value", "type": "quantitative", "axis": null, "scale": {"zero": true, "nice": false, "padding": 3}}}},
     {"mark": {"type": "line", "color": "#8fd080", "opacity": 0.75, "strokeWidth": 2, "clip": true},
      "encoding": {"x": {"field": "month", "type": "ordinal", "axis": null}, "y": {"field": "value", "type": "quantitative", "axis": null}}}
    ]},
    {"data": {"values": [{"value": 0}]}, "mark": {"type": "rule", "color": "#ccd6eb", "strokeWidth": 2.5, "clip": true}, "encoding": {"y": {"field": "value", "type": "quantitative", "axis": null}}},
    {"data": {"values": [{"month": "Sep", "value": 0, "rag": "Red"}, {"month": "Oct", "value": 0, "rag": "Red"}, {"month": "Nov", "value": 59, "rag": "Green"}]},
     "mark": {"type": "point", "filled": true, "size": 18, "opacity": 1, "clip": true},
     "encoding": {"x": {"field": "month", "type": "ordinal", "axis": null}, "y": {"field": "value", "type": "quantitative", "axis": null},
                  "fill": {"field": "rag", "type": "nominal", "legend": null, "scale": {"domain": ["Red", "Green"], "range": ["#f04545", "#66c055"]}}}}
   ]},
   {"width": 328, "height": 116, "data": {"values": [{}]}, "mark": {"type": "rect", "color": "#f2f2f2"}, "encoding": {}}
  ]}
 ]},

 {"width": 2151, "height": 151, "data": {"values": [{"m": "CPE022M", "text": "20 Town and Community Councils have accessed the Carbon toolkit package which is now available publicly on the council's website. Ongoing support and\nengagement is being provided to them to ensure successful delivery of the support package."}]}, "layer": [
  {"mark": {"type": "rect", "color": "#f2f2f2"}, "encoding": {}},
  {"mark": {"type": "rule", "color": "#e3e3e3", "strokeWidth": 1.5, "yOffset": 0.75, "clip": true}, "encoding": {"y": {"field": "m", "type": "nominal", "axis": null, "scale": {"type": "band", "paddingInner": 0, "paddingOuter": 0}, "bandPosition": 0}}},
  {"mark": {"type": "text", "align": "left", "baseline": "middle", "dx": 6.5, "dy": -16.75, "lineBreak": "\n", "lineHeight": 33.5, "font": "DejaVu Sans", "fontSize": 26, "color": "#2b4466", "clip": true},
   "encoding": {"x": {"field": "m", "type": "nominal", "axis": null, "scale": {"type": "band", "paddingInner": 0, "paddingOuter": 0}, "bandPosition": 0}, "text": {"field": "text"}}}
 ]}
 ]}
]
}
